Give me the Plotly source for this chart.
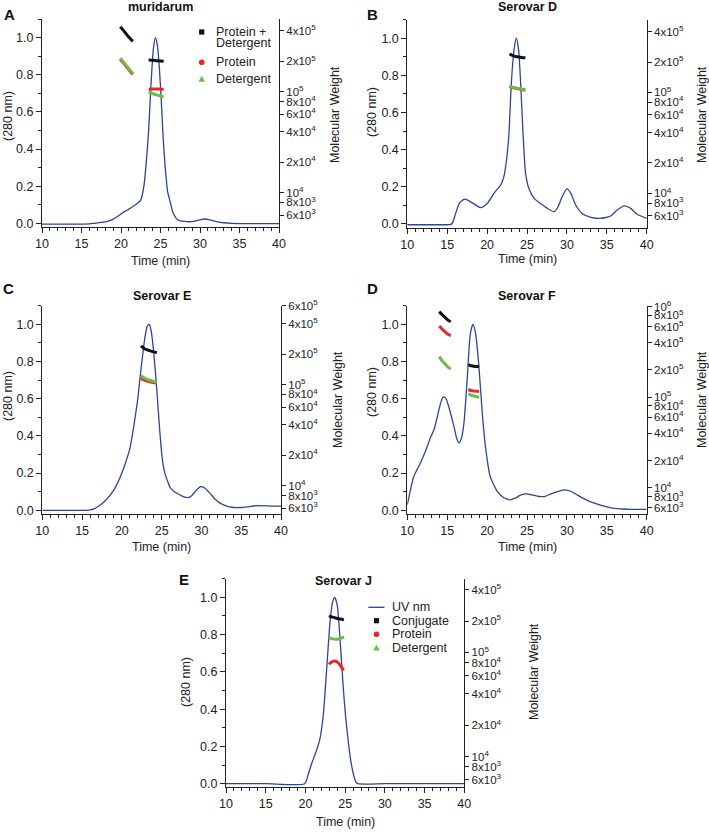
import plotly.graph_objects as go

W, H = 709, 832

# ---------------- data ----------------
# Panel A - muridarum
A_time = [10, 12, 14, 15, 16, 16.5, 17, 17.5, 18, 18.5, 19, 19.5, 20, 20.5, 21, 21.5, 22, 22.5, 22.9,
          23.2, 23.5, 23.8, 24.1, 24.35, 24.6, 24.85, 25.1, 25.35, 25.6, 25.9, 26.2, 26.6, 27.2, 28, 29,
          29.6, 30.1, 30.6, 31.1, 31.6, 32.2, 33, 34, 36, 38, 40]
A_uv = [-0.004, -0.004, -0.004, -0.004, -0.003, -0.001, 0.002, 0.005, 0.008, 0.013, 0.022, 0.035, 0.05,
        0.064, 0.076, 0.09, 0.105, 0.125, 0.2, 0.33, 0.5, 0.75, 0.94, 1.0, 0.96, 0.84, 0.66, 0.45, 0.3,
        0.17, 0.12, 0.055, 0.018, 0.01, 0.009, 0.014, 0.02, 0.023, 0.02, 0.014, 0.008, 0.003, 0.0,
        -0.002, -0.002, -0.002]
A_mw_time = [19.9, 20.3, 20.7, 21.1, 21.5, None, 23.5, 24.0, 24.5, 25.0, 25.4]
A_conj = [4.4e5, 4.05e5, 3.7e5, 3.4e5, 3.15e5, None, 2.06e5, 2.05e5, 2.03e5, 2.01e5, 2.0e5]
A_prot = [2.1e5, 1.93e5, 1.76e5, 1.61e5, 1.48e5, None, 1.06e5, 1.065e5, 1.065e5, 1.06e5, 1.055e5]
A_det = [2.14e5, 1.97e5, 1.8e5, 1.65e5, 1.52e5, None, 9.9e4, 9.6e4, 9.3e4, 9.1e4, 8.9e4]

# Panel B - Serovar D
B_time = [10, 12, 14, 15, 15.4, 15.64, 16.06, 16.5, 17.1, 17.5, 18.36, 19.2, 20.0, 20.86, 21.7, 22.1,
          22.45, 22.74, 23.04, 23.37, 23.66, 23.95, 24.2, 24.5, 24.83, 25.25, 25.9, 26.7, 27.55, 28.4,
          28.9, 29.4, 30.0, 30.5, 31.1, 31.9, 33.0, 34.2, 35.5, 36.3, 37.2, 38.0, 38.8, 40]
B_uv = [-0.004, -0.004, -0.004, -0.004, -0.003, 0.004, 0.057, 0.11, 0.133, 0.13, 0.108, 0.088, 0.11,
        0.165, 0.21, 0.255, 0.35, 0.49, 0.76, 0.937, 1.0, 0.937, 0.76, 0.49, 0.27, 0.19, 0.138, 0.11,
        0.084, 0.066, 0.093, 0.147, 0.189, 0.165, 0.102, 0.057, 0.036, 0.03, 0.043, 0.075, 0.097,
        0.084, 0.052, 0.03]
B_mw_time = [22.8, 23.3, 23.8, 24.3, 24.8]
B_conj = [2.4e5, 2.3e5, 2.25e5, 2.22e5, 2.2e5]
B_prot = [1.15e5, 1.11e5, 1.09e5, 1.07e5, 1.05e5]
B_det = [1.16e5, 1.12e5, 1.1e5, 1.08e5, 1.06e5]

# Panel C - Serovar E
C_time = [10, 14, 15.5, 16, 16.5, 17, 17.5, 18, 18.5, 19, 19.5, 20, 20.5, 21, 21.3, 21.6, 22, 22.3,
          22.6, 22.9, 23.2, 23.45, 23.7, 24.0, 24.3, 24.6, 24.85, 25.1, 25.4, 25.8, 26.1, 26.6, 27.2,
          27.8, 28.3, 28.8, 29.3, 29.9, 30.4, 31, 31.6, 32.3, 33, 34, 35, 36, 37, 38, 39, 40]
C_uv = [0.0, 0.0, 0.0, 0.002, 0.008, 0.02, 0.035, 0.055, 0.08, 0.11, 0.15, 0.2, 0.26, 0.33, 0.4, 0.48,
        0.6, 0.72, 0.83, 0.93, 0.99, 1.0, 0.96, 0.85, 0.7, 0.52, 0.38, 0.27, 0.2, 0.15, 0.12, 0.1, 0.085,
        0.072, 0.068, 0.08, 0.105, 0.127, 0.12, 0.095, 0.065, 0.04, 0.025, 0.015, 0.015, 0.02, 0.025,
        0.024, 0.022, 0.022]
C_mw_time = [22.4, 22.9, 23.4, 23.9, 24.4]
C_conj = [2.41e5, 2.25e5, 2.18e5, 2.12e5, 2.07e5]
C_prot = [1.15e5, 1.1e5, 1.07e5, 1.05e5, 1.04e5]
C_det = [1.22e5, 1.15e5, 1.11e5, 1.08e5, 1.05e5]

# Panel D - Serovar F
D_time = [10, 10.3, 10.8, 11.7, 12.3, 12.9, 13.4, 13.8, 14.2, 14.5, 14.85, 15.2, 15.85, 16.2, 16.5,
          16.8, 17.1, 17.5, 17.9, 18.23, 18.56, 18.98, 19.4, 19.8, 20.4, 21.3, 22, 22.9, 23.5, 24.2,
          24.9, 25.6, 26.5, 27.3, 28, 28.8, 29.6, 30.3, 31, 32, 33, 34, 35, 36, 37, 38, 40]
D_uv = [0.03, 0.09, 0.18, 0.26, 0.32, 0.39, 0.44, 0.51, 0.58, 0.61, 0.6, 0.555, 0.45, 0.385, 0.363,
        0.39, 0.47, 0.7, 0.95, 1.0, 0.95, 0.77, 0.52, 0.34, 0.18, 0.1, 0.07, 0.056, 0.065, 0.082, 0.088,
        0.083, 0.074, 0.075, 0.088, 0.1, 0.11, 0.105, 0.09, 0.065, 0.045, 0.03, 0.018, 0.01, 0.007,
        0.005, 0.005]
D_mw_time = [14.0, 14.4, 14.8, 15.1, 15.45, None, 17.65, 18.0, 18.35, 18.7, 19.0]
D_conj = [8.8e5, 8.1e5, 7.5e5, 7.1e5, 6.8e5, None, 2.29e5, 2.22e5, 2.19e5, 2.18e5, 2.17e5]
D_prot = [6.1e5, 5.6e5, 5.2e5, 4.95e5, 4.8e5, None, 1.22e5, 1.18e5, 1.17e5, 1.16e5, 1.16e5]
D_det = [2.8e5, 2.5e5, 2.3e5, 2.15e5, 2.05e5, None, 1.09e5, 1.05e5, 1.03e5, 1.01e5, 1.0e5]

# Panel E - Serovar J
E_time = [10, 15, 19.9, 20.35, 20.8, 21.2, 21.8, 22.25, 22.65, 23.1, 23.43, 23.68, 24.0, 24.35, 24.77,
          25.2, 25.8, 26.35, 26.6, 30, 35, 40]
E_uv = [0.0, 0.0, 0.0, 0.05, 0.11, 0.155, 0.235, 0.37, 0.6, 0.87, 0.977, 1.0, 0.96, 0.78, 0.51, 0.3,
        0.1, 0.01, 0.0, 0.0, 0.0, 0.0]
E_conj_time = [22.95, 23.4, 23.9, 24.4, 24.85]
E_conj = [2.23e5, 2.18e5, 2.13e5, 2.09e5, 2.05e5]
E_det_time = [22.95, 23.4, 23.9, 24.4, 24.85]
E_det = [1.4e5, 1.35e5, 1.34e5, 1.36e5, 1.41e5]
E_prot_time = [22.95, 23.3, 23.65, 24.0, 24.4, 24.8]
E_prot = [7.7e4, 8.1e4, 8.3e4, 8.1e4, 7.5e4, 6.7e4]

MW_TICKS = [6e3, 8e3, 1e4, 2e4, 4e4, 6e4, 8e4, 1e5, 2e5, 4e5]
MW_TICKS_C = MW_TICKS + [6e5]
MW_TICKS_D = MW_TICKS + [6e5, 8e5, 1e6]
X_TICKS = [10, 15, 20, 25, 30, 35, 40]
TITLES = ["muridarum", "Serovar D", "Serovar E", "Serovar F", "Serovar J"]
LETTERS = ["A", "B", "C", "D", "E"]

# ---------------- style ----------------
UV_COL = "#2D4596"
RED = "#E8262B"
GREEN = "#6CBD45"
BLACK = "#111111"
FONT = "Liberation Sans, Arial, sans-serif"
FS = 12.5


def fx(p):
    return p / W


def fy(p):
    return 1 - p / H


def mw_label(v):
    import math
    e = int(math.floor(math.log10(v) + 1e-9))
    m = round(v / 10 ** e)
    if m == 1:
        return f"10<sup>{e}</sup>"
    return f"{m}x10<sup>{e}</sup>"


panels = [
    dict(x0=42, x1=279, yt=19, yb=227, mwr=[3.66, 5.72], ticks=MW_TICKS,
         t=A_time, uv=A_uv,
         mw=[(A_mw_time, A_conj, BLACK), (A_mw_time, A_prot, RED), (A_mw_time, A_det, GREEN)],
         title=(160.5, 7), letter=(9, 14), ylab=(8, 116), mwlab=(335, 115), tlab=(160.5, 261)),
    dict(x0=407.3, x1=646.7, yt=19.7, yb=227.7, mwr=[3.66, 5.72], ticks=MW_TICKS,
         t=B_time, uv=B_uv,
         mw=[(B_mw_time, B_conj, BLACK), (B_mw_time, B_prot, RED), (B_mw_time, B_det, GREEN)],
         title=(527, 7), letter=(372, 14), ylab=(372, 112), mwlab=(702, 115), tlab=(527, 259)),
    dict(x0=42.3, x1=281, yt=305.7, yb=514, mwr=[3.72, 5.78], ticks=MW_TICKS_C,
         t=C_time, uv=C_uv,
         mw=[(C_mw_time, C_conj, BLACK), (C_mw_time, C_prot, RED), (C_mw_time, C_det, GREEN)],
         title=(161.7, 296), letter=(8, 288), ylab=(8, 396), mwlab=(338, 400), tlab=(161.7, 547)),
    dict(x0=407.3, x1=646.7, yt=305.7, yb=514, mwr=[3.71, 6.01], ticks=MW_TICKS_D,
         t=D_time, uv=D_uv,
         mw=[(D_mw_time, D_conj, BLACK), (D_mw_time, D_prot, RED), (D_mw_time, D_det, GREEN)],
         title=(527, 296), letter=(373, 288), ylab=(372, 392), mwlab=(702, 400), tlab=(527, 547)),
    dict(x0=226, x1=464.3, yt=578.7, yb=787.4, mwr=[3.706, 5.707], ticks=MW_TICKS,
         t=E_time, uv=E_uv,
         mw=[(E_conj_time, E_conj, BLACK), (E_prot_time, E_prot, RED), (E_det_time, E_det, GREEN)],
         title=(343, 581), letter=(184, 579), ylab=(186, 682), mwlab=(534, 672), tlab=(345, 822)),
]

fig = go.Figure()
layout = {}
annotations = []
shapes = []


def ann(text, x, y, size=FS, angle=0, xanchor="center", color="#222"):
    annotations.append(dict(text=text, x=fx(x), y=fy(y), xref="paper", yref="paper",
                            xanchor=xanchor, yanchor="middle", showarrow=False, textangle=angle,
                            font=dict(family=FONT, size=size, color=color)))


for i, p in enumerate(panels):
    n = i + 1
    xa = "x" if n == 1 else f"x{n}"
    yl_i, yr_i = 2 * i + 1, 2 * i + 2
    yl = "y" if yl_i == 1 else f"y{yl_i}"
    yr = f"y{yr_i}"

    fig.add_trace(go.Scatter(x=p["t"], y=p["uv"], xaxis=xa, yaxis=yl, mode="lines",
                             line=dict(color=UV_COL, width=1.3, shape="spline", smoothing=0.6),
                             showlegend=False, hoverinfo="skip"))
    for (tt, vv, col) in p["mw"]:
        fig.add_trace(go.Scatter(x=tt, y=vv, xaxis=xa, yaxis=yr, mode="lines",
                                 line=dict(color=col, width=3, shape="spline"),
                                 connectgaps=False, showlegend=False, hoverinfo="skip"))

    xkey = "xaxis" if n == 1 else f"xaxis{n}"
    ylkey = "yaxis" if yl_i == 1 else f"yaxis{yl_i}"
    yrkey = f"yaxis{yr_i}"

    layout[xkey] = dict(domain=[fx(p["x0"]), fx(p["x1"])], anchor=yl, range=[10, 40],
                        automargin=False, fixedrange=True,
                        tickvals=X_TICKS, ticks="outside", ticklen=5, tickwidth=1,
                        tickcolor="#222", showline=True, linecolor="#222", linewidth=1,
                        showgrid=False, zeroline=False,
                        minor=dict(dtick=1, tick0=10, ticks="outside", ticklen=3, tickcolor="#222",
                                   showgrid=False),
                        tickfont=dict(family=FONT, size=FS, color="#222"))
    layout[ylkey] = dict(domain=[fy(p["yb"]), fy(p["yt"])], anchor=xa, range=[-0.02, 1.1],
                         automargin=False, fixedrange=True,
                         tick0=0, dtick=0.2, tickformat=".1f", ticks="outside", ticklen=5,
                         tickcolor="#222", showline=True, linecolor="#222", linewidth=1,
                         showgrid=False, zeroline=False,
                         minor=dict(dtick=0.1, tick0=0, ticks="outside", ticklen=3,
                                    tickcolor="#222", showgrid=False),
                         tickfont=dict(family=FONT, size=FS, color="#222"))
    layout[yrkey] = dict(overlaying=yl, anchor=xa, side="right", type="log", range=p["mwr"],
                         automargin=False, fixedrange=True,
                         tickvals=p["ticks"], ticktext=[mw_label(v) for v in p["ticks"]],
                         ticks="outside", ticklen=4, tickcolor="#222", showline=True,
                         linecolor="#222", linewidth=1, showgrid=False, zeroline=False,
                         tickfont=dict(family=FONT, size=11.5, color="#222"))

    ann(f"<b>{TITLES[i]}</b>", *p["title"], color="#111")
    ann(f"<b>{LETTERS[i]}</b>", *p["letter"], size=15, color="#111")
    ann("(280 nm)", *p["ylab"], angle=-90)
    ann("Molecular Weight", *p["mwlab"], angle=-90)
    ann("Time (min)", *p["tlab"])


# ---------------- manual legends ----------------
def square(cx, cy, col, s=2.6):
    shapes.append(dict(type="rect", xref="paper", yref="paper", x0=fx(cx - s), x1=fx(cx + s),
                       y0=fy(cy + s), y1=fy(cy - s), fillcolor=col, line=dict(width=0)))


def circle(cx, cy, col, s=2.8):
    shapes.append(dict(type="circle", xref="paper", yref="paper", x0=fx(cx - s), x1=fx(cx + s),
                       y0=fy(cy + s), y1=fy(cy - s), fillcolor=col, line=dict(width=0)))


def triangle(cx, cy, col, s=3.3):
    path = (f"M {fx(cx - s)} {fy(cy + s * 0.85)} L {fx(cx + s)} {fy(cy + s * 0.85)} "
            f"L {fx(cx)} {fy(cy - s * 0.95)} Z")
    shapes.append(dict(type="path", xref="paper", yref="paper", path=path, fillcolor=col,
                       line=dict(width=0)))


# Legend A
square(201.7, 32, BLACK)
ann("Protein +", 214, 31.7, xanchor="left")
ann("Detergent", 214, 43.3, xanchor="left")
circle(201.7, 62.3, RED)
ann("Protein", 214, 62.3, xanchor="left")
triangle(201.7, 79, GREEN)
ann("Detergent", 214, 79, xanchor="left")

# Legend E
shapes.append(dict(type="line", xref="paper", yref="paper", x0=fx(368.3), x1=fx(384.5),
                   y0=fy(607.3), y1=fy(607.3), line=dict(color=UV_COL, width=1.3)))
ann("UV nm", 389.5, 607.3, xanchor="left")
square(376.5, 620.7, BLACK)
ann("Conjugate", 389.5, 620.7, xanchor="left")
circle(376.5, 634.2, RED)
ann("Protein", 389.5, 634.2, xanchor="left")
triangle(376.5, 647.8, GREEN)
ann("Detergent", 389.5, 647.8, xanchor="left")

fig.update_layout(width=W, height=H, margin=dict(l=0, r=0, t=0, b=0, autoexpand=False),
                  paper_bgcolor="white", plot_bgcolor="white", showlegend=False,
                  annotations=annotations, shapes=shapes, **layout)

fig.write_html("out.html", config={"displayModeBar": False, "staticPlot": True},
               post_script="document.body.style.margin='0';")
